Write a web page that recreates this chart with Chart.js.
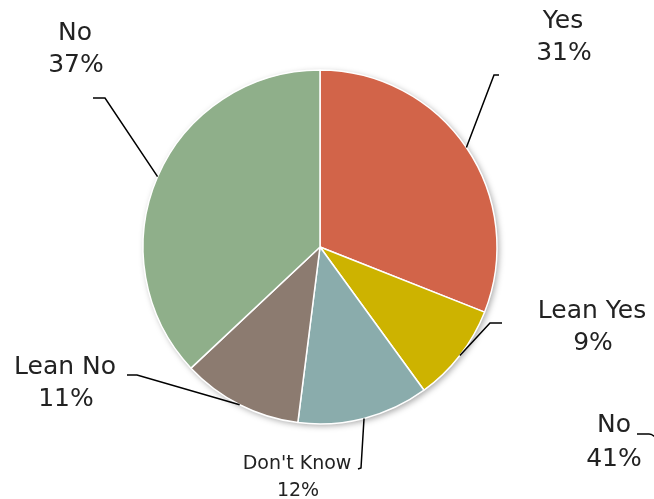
<!DOCTYPE html>
<html>
<head>
<meta charset="utf-8">
<script src="https://cdn.jsdelivr.net/npm/chart.js@4/dist/chart.umd.min.js"></script>
<style>
  html, body { margin: 0; padding: 0; background: #fff; }
  #wrap { width: 654px; height: 499px; }
</style>
</head>
<body>
<div id="wrap"><canvas id="pie" width="654" height="499"></canvas></div>
<script>
// categories and values, clockwise from 12 o'clock
const categories = ["Yes", "Lean Yes", "Don't Know", "Lean No", "No"];
const percentages = [31, 9, 12, 11, 37];
const sliceColors = ["#D26449", "#CDB300", "#8AACAC", "#8C7B70", "#8FAF8A"];

// a stray label that sits outside the pie in the original
const strayLabel = ["No", "41%"];

// label placement: elbow of the leader, end of the short tail, text centre
const leaderLayout = [
  { elbow: [494, 75], tail: [499, 75], text: [563, 21], size: 25, gap: 32 },
  { elbow: [490, 323], tail: [502, 323], text: [592, 311], size: 25, gap: 32 },
  { elbow: [361, 468], tail: [358, 469], text: [297, 464], size: 19, gap: 27 },
  { elbow: [137, 375], tail: [127, 375], text: [65, 367], size: 25, gap: 32 },
  { elbow: [105, 98], tail: [93, 98], text: [75, 33], size: 25, gap: 32 },
];

const FONT = "'DejaVu Sans', sans-serif";

// soft shadow under the pie
const pieShadow = {
  id: "pieShadow",
  beforeDatasetsDraw(chart) {
    const arc = chart.getDatasetMeta(0).data[0];
    if (!arc) return;
    const ctx = chart.ctx;
    ctx.save();
    ctx.shadowColor = "rgba(0,0,0,0.35)";
    ctx.shadowBlur = 6;
    ctx.shadowOffsetX = 2;
    ctx.shadowOffsetY = 2;
    ctx.fillStyle = "#ffffff";
    ctx.beginPath();
    ctx.arc(arc.x, arc.y, arc.outerRadius, 0, Math.PI * 2);
    ctx.fill();
    ctx.restore();
  },
};

// leader lines + "Label\nNN%" text
const pieLabels = {
  id: "pieLabels",
  afterDatasetsDraw(chart) {
    const ctx = chart.ctx;
    const meta = chart.getDatasetMeta(0);
    ctx.save();
    ctx.strokeStyle = "#000";
    ctx.lineWidth = 1.5;
    ctx.fillStyle = "#222";
    ctx.textAlign = "center";
    ctx.textBaseline = "middle";
    meta.data.forEach((arc, i) => {
      const lay = leaderLayout[i];
      const mid = (arc.startAngle + arc.endAngle) / 2;
      const sx = arc.x + Math.cos(mid) * arc.outerRadius;
      const sy = arc.y + Math.sin(mid) * arc.outerRadius;
      ctx.beginPath();
      ctx.moveTo(sx, sy);
      ctx.lineTo(lay.elbow[0], lay.elbow[1]);
      ctx.lineTo(lay.tail[0], lay.tail[1]);
      ctx.stroke();
      ctx.font = lay.size + "px " + FONT;
      ctx.fillText(categories[i], lay.text[0], lay.text[1]);
      ctx.fillText(percentages[i] + "%", lay.text[0] + 1, lay.text[1] + lay.gap);
    });
    // stray label on the right
    ctx.font = "25px " + FONT;
    ctx.fillText(strayLabel[0], 614, 425);
    ctx.fillText(strayLabel[1], 614, 459);
    ctx.beginPath();
    ctx.moveTo(637, 434);
    ctx.lineTo(649, 434);
    ctx.quadraticCurveTo(652, 434, 655, 437);
    ctx.stroke();
    ctx.restore();
  },
};

new Chart(document.getElementById("pie"), {
  type: "pie",
  data: {
    labels: categories,
    datasets: [
      {
        data: percentages,
        backgroundColor: sliceColors,
        borderColor: "#ffffff",
        borderWidth: 1.5,
      },
    ],
  },
  options: {
    responsive: false,
    animation: false,
    radius: 177,
    layout: { padding: { left: 143, right: 157, top: 70, bottom: 75 } },
    plugins: {
      legend: { display: false },
      tooltip: { enabled: false },
    },
  },
  plugins: [pieShadow, pieLabels],
});
</script>
</body>
</html>
